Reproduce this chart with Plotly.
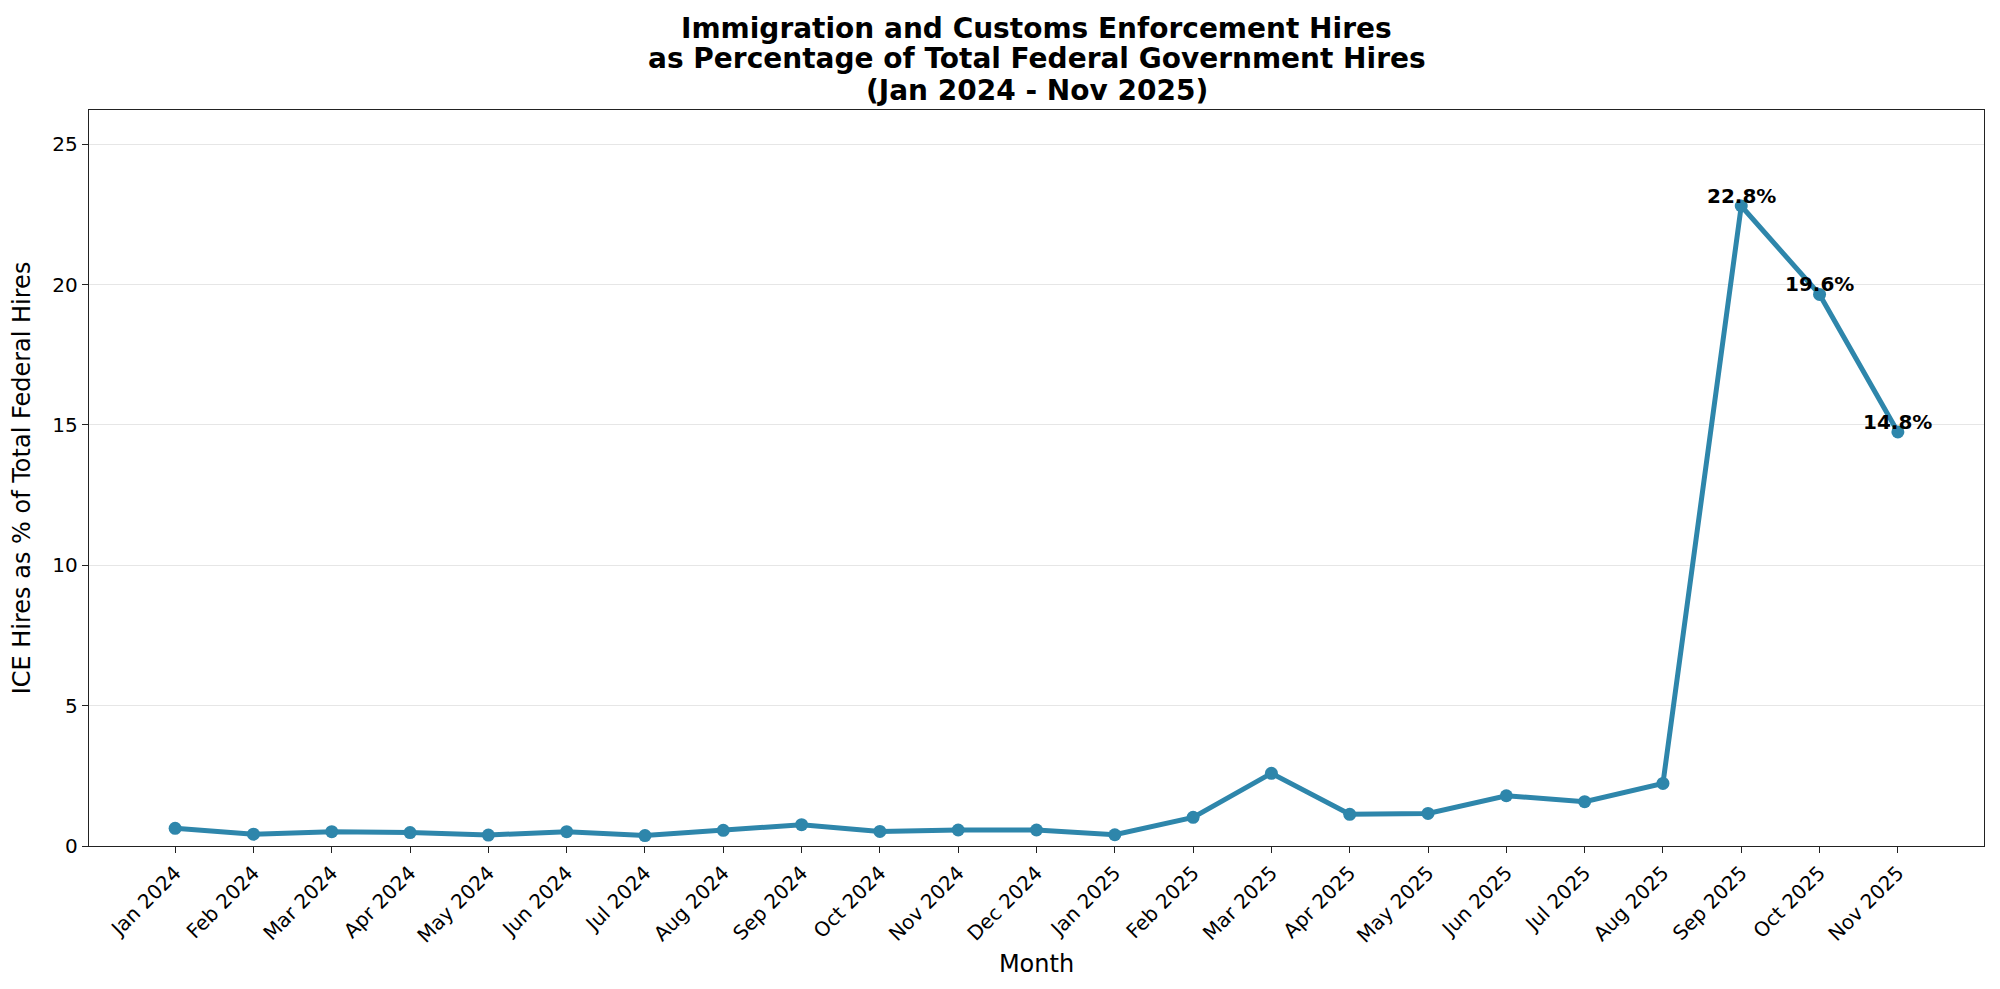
import plotly.graph_objects as go

months = ["Jan 2024", "Feb 2024", "Mar 2024", "Apr 2024", "May 2024", "Jun 2024",
          "Jul 2024", "Aug 2024", "Sep 2024", "Oct 2024", "Nov 2024", "Dec 2024",
          "Jan 2025", "Feb 2025", "Mar 2025", "Apr 2025", "May 2025", "Jun 2025",
          "Jul 2025", "Aug 2025", "Sep 2025", "Oct 2025", "Nov 2025"]
pct = [0.63, 0.42, 0.51, 0.48, 0.39, 0.51, 0.37, 0.56, 0.76, 0.52, 0.57, 0.57,
       0.40, 1.02, 2.59, 1.13, 1.16, 1.79, 1.58, 2.23, 22.8, 19.65, 14.75]
label_idx = [20, 21, 22]
label_text = ["22.8%", "19.6%", "14.8%"]
yticks = [0, 5, 10, 15, 20, 25]
title_lines = ["Immigration and Customs Enforcement Hires",
               "as Percentage of Total Federal Government Hires",
               "(Jan 2024 - Nov 2025)"]

color = "#2E86AB"
xpos = list(range(len(months)))

W, H = 2000, 989
ML, MR, MT, MB = 79, 24, 102, 151
PH = H - MT - MB

fig = go.Figure()
fig.add_trace(go.Scatter(
    x=xpos, y=pct, mode="lines+markers",
    line=dict(color=color, width=5),
    marker=dict(color=color, size=13),
    hoverinfo="skip", showlegend=False,
))

for i, t in zip(label_idx, label_text):
    fig.add_annotation(x=xpos[i], y=pct[i], text="<b>" + t + "</b>", showarrow=False,
                       xanchor="center", yanchor="bottom", yshift=-4,
                       font=dict(family="DejaVu Sans", size=20, color="black"))

# title lines, offsets above plot top in px
for line, off in zip(title_lines, [82, 51, 19]):
    fig.add_annotation(x=0.5, y=1 + off / PH, xref="paper", yref="paper",
                       text="<b>" + line + "</b>", showarrow=False,
                       xanchor="center", yanchor="middle",
                       font=dict(family="DejaVu Sans", size=28, color="black"))

ymax = max(pct) * 1.15

fig.update_layout(
    width=W, height=H,
    margin=dict(l=ML, r=MR, t=MT, b=MB),
    paper_bgcolor="white", plot_bgcolor="white",
    font=dict(family="DejaVu Sans", size=20, color="black"),
    xaxis=dict(
        range=[-1.1, len(months) - 1 + 1.1],
        tickmode="array", tickvals=xpos, ticktext=months, tickangle=-45,
        showgrid=False, zeroline=False,
        showline=True, linecolor="#222222", linewidth=1.4, mirror=True,
        ticks="outside", ticklen=6, tickwidth=1.2, tickcolor="#222222",
        tickfont=dict(size=20),
        title=dict(text="Month", font=dict(size=24), standoff=8),
    ),
    yaxis=dict(
        range=[0, ymax],
        tickmode="array", tickvals=yticks,
        showgrid=True, gridcolor="#e6e6e6", gridwidth=1.2, zeroline=False,
        showline=True, linecolor="#222222", linewidth=1.4, mirror=True,
        ticks="outside", ticklen=6, tickwidth=1.2, tickcolor="#222222",
        tickfont=dict(size=20),
        title=dict(text="ICE Hires as % of Total Federal Hires", font=dict(size=24), standoff=16),
    ),
)

fig.write_html("out.html")
